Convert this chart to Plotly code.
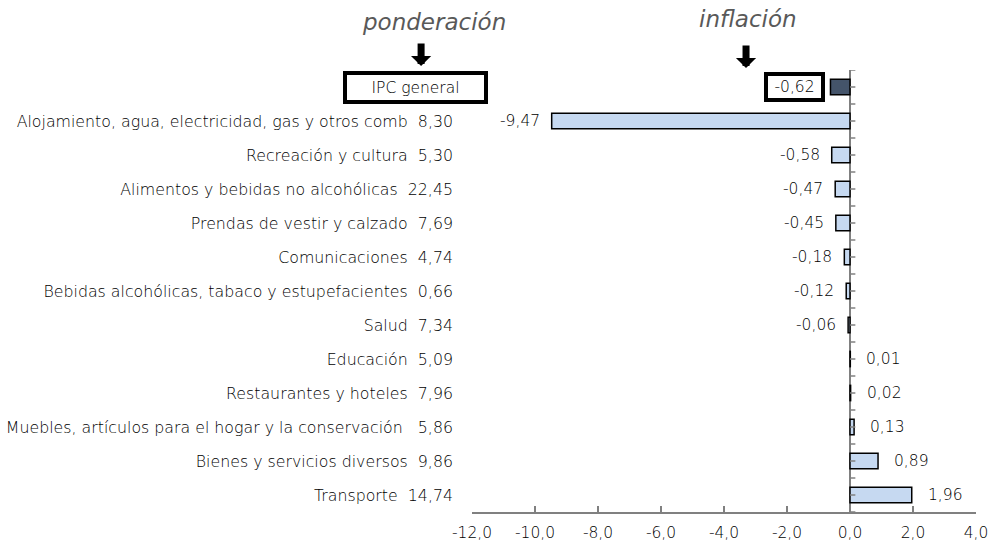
import plotly.graph_objects as go

categories = [
    "IPC general",
    "Alojamiento, agua, electricidad, gas y otros comb",
    "Recreación y cultura",
    "Alimentos y bebidas no alcohólicas",
    "Prendas de vestir y calzado",
    "Comunicaciones",
    "Bebidas alcohólicas, tabaco y estupefacientes",
    "Salud",
    "Educación",
    "Restaurantes y hoteles",
    "Muebles, artículos para el hogar y la conservación ",
    "Bienes y servicios diversos",
    "Transporte",
]
weights = [None, "8,30", "5,30", "22,45", "7,69", "4,74", "0,66", "7,34",
           "5,09", "7,96", "5,86", "9,86", "14,74"]
inflation = [-0.62, -9.47, -0.58, -0.47, -0.45, -0.18, -0.12, -0.06,
             0.01, 0.02, 0.13, 0.89, 1.96]
x_ticks = [-12, -10, -8, -6, -4, -2, 0, 2, 4]

LIGHT = "#c6d9f1"
DARK = "#44546a"
GRAY = "#808080"
TXT = "#000000"
FONT = "DejaVu Sans"
FS = 15.5
FW = 300

idx = list(range(len(categories)))
colors = [DARK] + [LIGHT] * (len(categories) - 1)

ticktext = []
for c, w in zip(categories, weights):
    ticktext.append("" if w is None else f"{c}  {w}")

def fmt(v, d=2):
    return f"{v:.{d}f}".replace(".", ",")

x_ticktext = [fmt(t, 1) for t in x_ticks]

fig = go.Figure()
fig.add_trace(go.Bar(
    x=inflation, y=idx, orientation="h", width=0.45,
    marker=dict(color=colors, line=dict(color="black", width=1.5)),
    hoverinfo="skip",
))

annotations = []
for i, v in enumerate(inflation):
    if i == 0:
        annotations.append(dict(
            x=v, y=i, xref="x", yref="y", text=fmt(v), showarrow=False,
            xanchor="right", xshift=-5,
            font=dict(family=FONT, size=FS, color="black", weight=FW),
            bordercolor="black", borderwidth=4, borderpad=1, width=51, height=20,
            bgcolor="white"))
        continue
    annotations.append(dict(
        x=v, y=i, xref="x", yref="y", text=fmt(v), showarrow=False,
        xanchor="right" if v < 0 else "left", xshift=-10 if v < 0 else 14,
        font=dict(family=FONT, size=FS, color=TXT, weight=FW)))

# IPC general boxed label
annotations.append(dict(
    x=-0.112, y=0, xref="paper", yref="y", text=categories[0], showarrow=False,
    xanchor="center", yanchor="middle",
    font=dict(family=FONT, size=FS, color="black", weight=FW),
    bordercolor="black", borderwidth=4, borderpad=0, width=137, height=25,
    bgcolor="white"))

# titles and arrows
annotations.append(dict(x=-0.075, y=1.1086, xref="paper", yref="paper",
                        text="<i>ponderación</i>", showarrow=False,
                        xanchor="center", yanchor="middle",
                        font=dict(family=FONT, size=23, color="#595959", weight=FW)))
annotations.append(dict(x=0.5476, y=1.1154, xref="paper", yref="paper",
                        text="<i>inflación</i>", showarrow=False,
                        xanchor="center", yanchor="middle",
                        font=dict(family=FONT, size=23, color="#595959", weight=FW)))
for ax_x, head_y in [(-0.101, 1.009), (0.5437, 1.0045)]:
    annotations.append(dict(x=ax_x, y=head_y, xref="paper", yref="paper",
                            text="", showarrow=True, ax=0, ay=-24,
                            arrowhead=1, arrowwidth=7, arrowsize=0.48,
                            arrowcolor="black"))

shapes = []
n = len(categories)
for k in range(2 * n + 1):
    yy = -0.5 + k * 0.5
    shapes.append(dict(type="line", xref="x", yref="y", x0=0, x1=0.17,
                       y0=yy, y1=yy, line=dict(color=GRAY, width=1.5)))

fig.update_layout(
    width=992, height=542,
    margin=dict(l=472, r=16, t=70, b=30, autoexpand=False),
    paper_bgcolor="white", plot_bgcolor="white",
    showlegend=False,
    font=dict(family=FONT, size=FS, color=TXT, weight=FW),
    annotations=annotations,
    shapes=shapes,
    xaxis=dict(
        range=[-12, 4], tickvals=x_ticks, ticktext=x_ticktext,
        automargin=False,
        showgrid=False, zeroline=True, zerolinecolor=GRAY, zerolinewidth=2,
        showline=True, linecolor=GRAY, linewidth=1.5,
        ticks="inside", ticklen=6, tickwidth=1.5, tickcolor=GRAY,
        ticklabelstandoff=6,
        tickfont=dict(family=FONT, size=FS, color=TXT, weight=FW),
        fixedrange=True,
    ),
    yaxis=dict(
        range=[n - 0.5, -0.5], tickvals=idx, ticktext=ticktext,
        automargin=False,
        showgrid=False, zeroline=False, showline=False, ticks="",
        ticklabelstandoff=18,
        tickfont=dict(family=FONT, size=15.8, color=TXT, weight=FW),
        fixedrange=True,
    ),
)

fig.write_html("out.html",
               config={"displayModeBar": False, "staticPlot": True},
               post_script="document.body.style.margin='0';"
                           "document.body.style.overflow='hidden';")
